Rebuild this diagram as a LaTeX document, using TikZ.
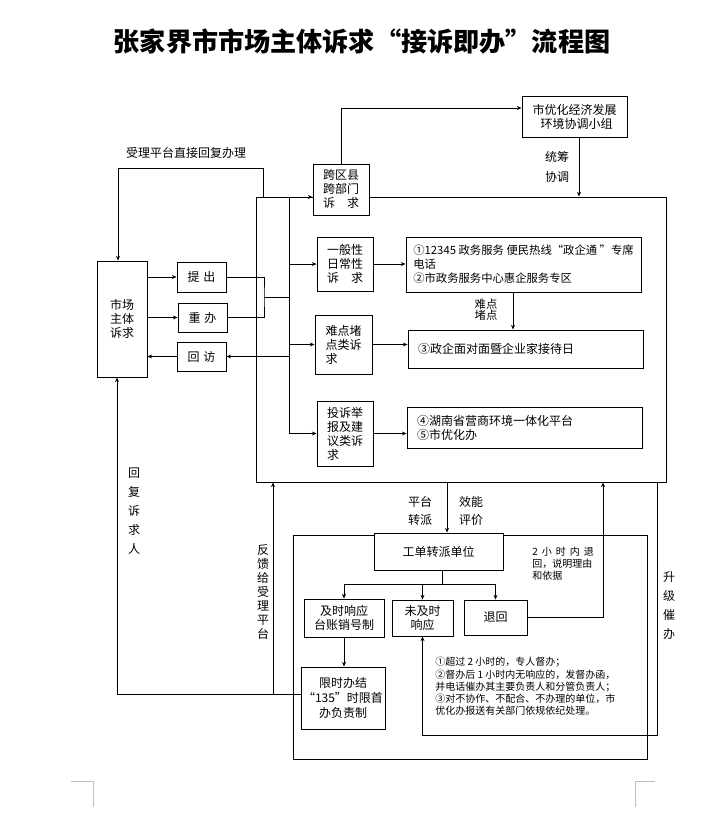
\documentclass[tikz,border=0pt]{standalone}
\usepackage{fontspec}
\setmainfont{Noto Sans CJK SC}
\usetikzlibrary{arrows.meta,calc}
\newcommand\mkbox[7][]{\node[box,#1,minimum width={(#5-#3)*0.75pt},minimum height={(#6-#4)*0.75pt}] (#2) at ({(#3+#5)/2},{(#4+#6)/2}) {#7};}
\newcommand\gp{\hspace{3pt}}
\begin{document}
\begin{tikzpicture}[x=0.75pt,y=-0.75pt,
  box/.style={draw, fill=white, line width=0.7pt, inner sep=1pt, align=center, font=\fontsize{9pt}{10.5pt}\selectfont},
  lbl/.style={inner sep=0pt, align=center, font=\fontsize{9pt}{10.5pt}\selectfont},
  note/.style={inner sep=0pt, align=left, anchor=north west, font=\fontsize{7.5pt}{9.2pt}\selectfont},
  arr/.style={-{Stealth[length=3.5pt,width=3pt]}, line width=0.7pt},
  ln/.style={line width=0.7pt},
  crop/.style={draw=black!25, line width=0.6pt}]
\useasboundingbox (0,0) rectangle (711,834);
\fill[white] (0,0) rectangle (711,834);

% title
\node[inner sep=0pt, font=\bfseries\fontsize{19.6pt}{22pt}\selectfont] (title) at (362,42) {张家界市市场主体诉求“接诉即办”流程图};

% frames
\mkbox{big}{256}{197}{666}{482}{}
\mkbox{low}{293}{535}{647}{759}{}

% column coordinates
\coordinate (t1) at (289,197);
\coordinate (t2) at (289,433);
\coordinate (mx) at (264,297);
\coordinate (r0) at (263,197);
\coordinate (r1) at (118,168);
\coordinate (k1) at (341,108);
\coordinate (xi) at (579,0);
\coordinate (xa) at (513,0);
\coordinate (xb) at (447,0);
\coordinate (xc) at (442,0);
\coordinate (f0) at (442,584);
\coordinate (xd) at (603,0);
\coordinate (u1) at (657,735);
\coordinate (h1) at (117,694);
\coordinate (xg) at (273,0);

% boxes
\mkbox{shichang}{97}{261}{147}{377}{市场\\主体\\诉求}
\mkbox{tichu}{177}{262}{226}{292}{提\,\,出}
\mkbox{chongban}{178}{303}{227}{332}{重\,\,办}
\mkbox{huifang}{177}{342}{226}{371}{回\,\,访}
\mkbox{kuaqu}{313}{164}{369}{215}{跨区县\\跨部门\\诉\quad 求}
\mkbox{shiyouhua}{522}{96}{627}{137}{市优化经济发展\\\,\,环境协调小组}
\mkbox{yiban}{317}{237}{373}{291}{一般性\\日常性\\诉\quad 求}
\mkbox[align=left]{nandian}{315}{315}{372}{374}{难点堵\\点类诉\\求}
\mkbox[align=left]{tousu}{317}{401}{373}{466}{投诉举\\报及建\\议类诉\\求}
\mkbox[align=left,font=\fontsize{8.5pt}{10.5pt}\selectfont]{b1}{406}{237}{641}{292}{①12345 政务服务 便民热线“政企通 ”专席\\电话\\②市政务服务中心惠企服务专区}
\node[box, align=left, minimum height={38*0.75pt}, text width={215*0.75pt}, inner xsep={10*0.75pt}] (b3) at (525.5,349) {③政企面对面暨企业家接待日};
\node[box, align=left, minimum height={41*0.75pt}, text width={215*0.75pt}, inner xsep={10*0.75pt}] (b4) at (524.5,427.5) {④湖南省营商环境一体化平台\\⑤市优化办};
\mkbox{gongdan}{374}{533}{503}{570}{工单转派单位}
\mkbox{jishi}{304}{599}{384}{637}{及时响应\\台账销号制}
\mkbox{weiji}{392}{600}{453}{636}{未及时\\响应}
\mkbox{tuihui}{464}{600}{527}{635}{退回}
\mkbox[font=\fontsize{9pt}{11.2pt}\selectfont]{xianshi}{301}{667}{385}{729}{限时办结\\“135”时限首\\办负责制}

% connectors: left part
\draw[arr] (shichang.east |- tichu.west) -- (tichu.west);
\draw[arr] (shichang.east |- chongban.west) -- (chongban.west);
\draw[arr] (huifang.west) -- (huifang.west -| shichang.east);
\draw[ln] (tichu.east) -| (mx) |- (chongban.east);
\draw[ln] (mx) -- (mx -| t1);
\draw[ln] (t1) -- (t2);
\draw[arr] (t1) -- (t1 -| kuaqu.west);
\draw[arr] (yiban.west -| t1) -- (yiban.west);
\draw[arr] (nandian.west -| t1) -- (nandian.west);
\draw[arr] (tousu.west -| t1) -- (tousu.west);
\draw[arr] (huifang.east -| t1) -- (huifang.east);
\draw[arr] (r0) |- (r1) -- (r1 |- shichang.north);

% top part
\draw[arr] (kuaqu.north) -- (k1) -- (k1 -| shiyouhua.west);
\draw[arr] (shiyouhua.south -| xi) -- (big.north -| xi);
\draw[arr] (yiban.east) -- (yiban.east -| b1.west);
\draw[arr] (b1.south -| xa) -- (b3.north -| xa);
\draw[arr] (nandian.east) -- (nandian.east -| b3.west);
\draw[arr] (tousu.east) -- (tousu.east -| b4.west);

% bottom part
\draw[arr] (big.south -| xb) -- (gongdan.north -| xb);
\draw[ln] (gongdan.south -| xc) -- (f0);
\draw[arr] (f0) -| (jishi.north);
\draw[arr] (f0) -| (tuihui.north);
\draw[arr] (f0 -| weiji.north) -- (weiji.north);
\draw[arr] (jishi.south) -- (jishi.south |- xianshi.north);
\draw[arr] (tuihui.east) -| (big.south -| xd);
\draw[arr] (big.south -| u1) -- (u1) -| (weiji.south);
\draw[arr] (xianshi.west |- h1) -- (h1) -- (h1 |- shichang.south);
\draw[arr] (h1 -| xg) -- (big.south -| xg);

% labels
\node[lbl] (l1) at (186,153) {受理平台直接回复办理};
\node[lbl, font=\fontsize{9pt}{15pt}\selectfont] (l2) at (557,167) {统筹\\协调};
\node[lbl, font=\fontsize{8.5pt}{8.4pt}\selectfont] (l3) at (486,310) {难点\\堵点};
\node[lbl, font=\fontsize{9pt}{13.5pt}\selectfont] (l4) at (420,511) {平台\\转派};
\node[lbl, font=\fontsize{9pt}{13.5pt}\selectfont] (l5) at (471,511) {效能\\评价};
\node[lbl, font=\fontsize{9pt}{14.25pt}\selectfont] (l6) at (134,511) {回\\复\\诉\\求\\人};
\node[lbl, font=\fontsize{9pt}{10.5pt}\selectfont] (l7) at (263,592) {反\\馈\\给\\受\\理\\平\\台};
\node[lbl, font=\fontsize{9pt}{14.25pt}\selectfont] (l8) at (669,606) {升\\级\\催\\办};
\node[note, font=\fontsize{7.5pt}{9pt}\selectfont] (n1) at (532,547) {2\gp 小\gp 时\gp 内\gp 退\\回，说明理由\\和依据};
\node[note] (n2) at (435,657) {①超过 2 小时的，专人督办；\\②督办后 1 小时内无响应的，发督办函，\\并电话催办其主要负责人和分管负责人；\\③对不协作、不配合、不办理的单位，市\\优化办报送有关部门依规依纪处理。};

% page corner marks
\draw[crop] (71,781) -- (93,781) -- (93,807);
\draw[crop] (655,781) -- (635,781) -- (635,807);
\end{tikzpicture}
\end{document}
